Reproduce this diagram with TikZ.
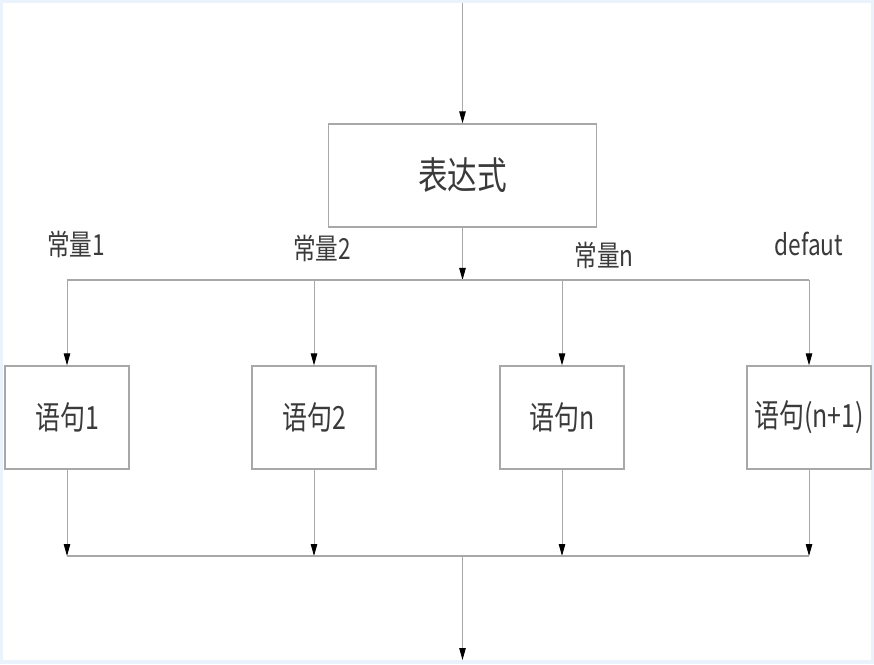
\documentclass[tikz,border=0pt]{standalone}
\usepackage{fontspec}
\usepackage{xcolor}
\usetikzlibrary{arrows.meta, positioning}
\newfontfamily\cjk[FakeStretch=0.78]{Noto Sans CJK SC}
\definecolor{FrameBlue}{HTML}{EAF2FB}
\definecolor{LineGray}{HTML}{A8A8A8}
\definecolor{TextGray}{HTML}{3A3A3A}

\tikzset{
  stmtbox/.style={draw=LineGray, line width=1.3pt, fill=white, inner sep=0pt,
    minimum width=124pt, minimum height=103pt, text=TextGray,
    font=\cjk\fontsize{32}{32}\selectfont},
  flow/.style={LineGray, line width=0.9pt, -{Triangle[length=12pt,width=6.5pt,black]}},
  bus/.style={LineGray, line width=1.1pt},
  caselabel/.style={text=TextGray, inner sep=0pt, font=\cjk\fontsize{29}{29}\selectfont}
}

\begin{document}
\begin{tikzpicture}[x=1pt,y=1pt]
  % Frame
  \fill[FrameBlue] (0,0) rectangle (874,664);
  \fill[white] (3,4) rectangle (871,661);
  \useasboundingbox (0,0) rectangle (874,664);
  % Expression
  \coordinate (entry) at (462.5,661);
  \node[stmtbox, minimum width=268pt, font=\cjk\fontsize{38}{38}\selectfont]
    (expr) at (462.5,488.5) {表达式};
  \draw[flow] (entry) -- (expr);
  \coordinate (split) at (462.5,384);
  \draw[flow] (expr) -- (split);
  % Branches
  \foreach \i/\x/\txt in {1/67/{语句1}, 2/314/{语句2}, 3/562/{语句n}, 4/809/{语句(n+1)}}{
    \node[stmtbox] (s\i) at (\x,246.5) {\txt};
    \coordinate (b\i) at (\x,384);
    \coordinate (m\i) at (\x,108);
    \draw[flow] (b\i) -- (s\i);
    \draw[flow] (s\i) -- (m\i);
  }
  \draw[bus] (b1) -- (b4);
  \draw[bus] (m1) -- (m4);
  % Exit
  \coordinate (merge) at (462.5,108);
  \coordinate (exit) at (462.5,4);
  \draw[flow] (merge) -- (exit);
  % Case labels
  \node[caselabel] (c1) at (76,420) {常量1};
  \node[caselabel] (c2) at (322,416) {常量2};
  \node[caselabel] (c3) at (604,409) {常量n};
  \node[caselabel] (c4) at (809,420) {defaut};
\end{tikzpicture}
\end{document}
